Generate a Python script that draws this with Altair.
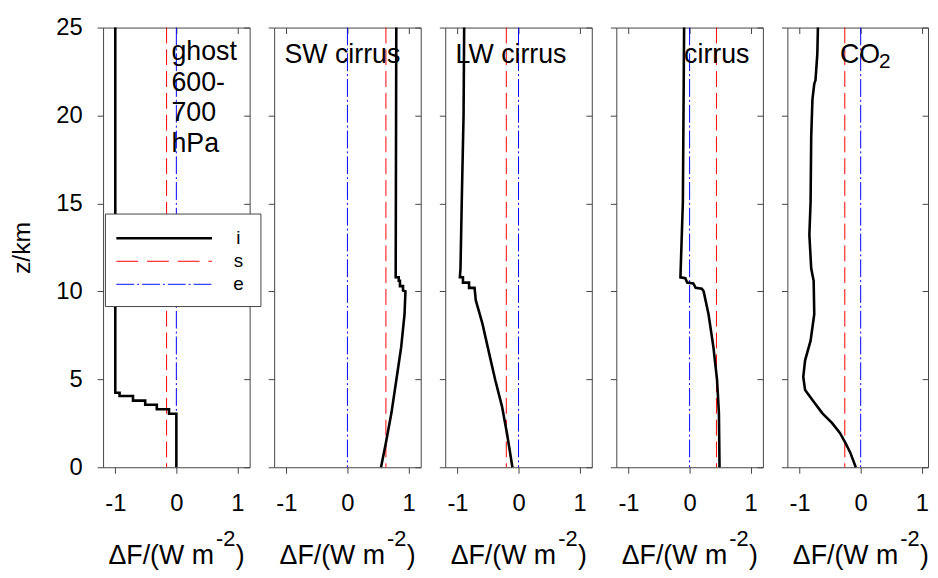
import altair as alt
import pandas as pd

FONT = "Liberation Sans, Arial, Helvetica, sans-serif"
FRAME = "#444444"

# ---------------- data ----------------
panel_names = ["ghost\n600-\n700\nhPa", "SW cirrus", "LW cirrus", "cirrus", "CO"]
label_x = [-0.08, -1.03, -1.03, -0.09, -0.34]
label_z = [23.16, 22.97, 22.97, 22.97, 22.97]
co2_sub = "2"
co2_sub_x = 0.30
co2_sub_z = 22.69

s_values = [-0.16, 0.63, -0.20, 0.44, -0.26]   # red dashed
e_values = [0.0, 0.0, 0.0, 0.0, 0.0]           # blue dash-dot

p1_x = [-1.0, -1.0, -0.93, -0.93, -0.71, -0.71, -0.51, -0.51, -0.32, -0.32, -0.12, -0.12, 0.0, 0.0]
p1_z = [25.0, 4.24, 4.24, 4.05, 4.05, 3.79, 3.79, 3.55, 3.55, 3.30, 3.30, 3.04, 3.04, 0.0]

p2_x = [0.80, 0.79, 0.84, 0.84, 0.86, 0.86, 0.91, 0.91, 0.95, 0.935, 0.88, 0.80, 0.72, 0.63, 0.55]
p2_z = [25.0, 10.8, 10.8, 10.6, 10.6, 10.3, 10.3, 10.05, 10.0, 8.7, 6.83, 4.95, 3.08, 1.39, 0.0]

p3_x = [-0.89, -0.90, -0.93, -0.95, -0.96, -0.91, -0.91, -0.81, -0.81, -0.72, -0.70, -0.59, -0.48, -0.38, -0.27, -0.19, -0.10]
p3_z = [25.0, 20.0, 15.0, 11.3, 10.8, 10.8, 10.5, 10.5, 10.2, 10.2, 9.5, 8.15, 6.46, 4.95, 3.45, 1.95, 0.0]

p4_x = [-0.09, -0.11, -0.15, -0.07, -0.04, 0.06, 0.10, 0.20, 0.23, 0.31, 0.39, 0.45, 0.48, 0.49]
p4_z = [25.0, 15.1, 10.8, 10.75, 10.5, 10.45, 10.2, 10.15, 10.0, 8.7, 6.83, 4.95, 3.08, 0.0]

p5_x = [-0.70, -0.71, -0.74, -0.76, -0.79, -0.81, -0.82, -0.84, -0.81, -0.77, -0.76, -0.82, -0.91, -0.94,
        -0.91, -0.79, -0.63, -0.47, -0.34, -0.25, -0.17, -0.08]
p5_z = [25.0, 23.5, 22.0, 21.8, 20.9, 18.8, 15.1, 13.2, 11.3, 10.6, 8.7, 7.2, 6.08, 5.14,
        4.39, 3.83, 3.08, 2.52, 1.95, 1.39, 0.83, 0.0]

profiles_x = [p1_x, p2_x, p3_x, p4_x, p5_x]
profiles_z = [p1_z, p2_z, p3_z, p4_z, p5_z]

x_ticks = [-1, 0, 1]
z_ticks = [0, 5, 10, 15, 20, 25]
legend_labels = ["i", "s", "e"]

# ---------------- styling ----------------
W, H = 148, 444
X_MIN, X_MAX = -1.2, 1.2
ZDOM = [0, 25]
PX_PER_UNIT = W / (X_MAX - X_MIN)
# the last panel is cut by the right edge of the picture in the reference
WIDTHS = [W, W, W, W, 142]
S_DASH = [16, 6]
E_DASH = [18, 3, 2, 3]
LINE_W = 2.6

dummy = pd.DataFrame({"d": [0]})


def panel(k):
    wk = WIDTHS[k]
    xs = alt.Scale(domain=[X_MIN, X_MIN + wk / PX_PER_UNIT], nice=False, zero=False)
    zs = alt.Scale(domain=ZDOM, nice=False, zero=False)
    prof = pd.DataFrame({"x": profiles_x[k], "z": profiles_z[k],
                         "idx": list(range(len(profiles_x[k])))})

    ax_bottom = alt.Axis(orient="bottom", values=x_ticks, title=None, labelPadding=19,
                         labelExpr="datum.value < 0 ? '-' + format(-datum.value, 'd') : format(datum.value, 'd')")
    ax_left = alt.Axis(orient="left", values=z_ticks, labels=(k == 0), labelPadding=15,
                       title=("z/km" if k == 0 else None), titlePadding=22)
    ax_top = alt.Axis(orient="top", values=x_ticks, labels=False, title=None, offset=-6)
    ax_right = alt.Axis(orient="right", values=z_ticks, labels=False, title=None, offset=-6)

    s_rule = alt.Chart(pd.DataFrame({"x": [s_values[k]]})).mark_rule(
        color="red", strokeWidth=1, strokeDash=S_DASH).encode(
        x=alt.X("x:Q", scale=xs, axis=None))
    e_rule = alt.Chart(pd.DataFrame({"x": [e_values[k]]})).mark_rule(
        color="blue", strokeWidth=1, strokeDash=E_DASH).encode(
        x=alt.X("x:Q", scale=xs, axis=None))
    line = alt.Chart(prof).mark_line(color="black", strokeWidth=LINE_W, strokeJoin="miter").encode(
        x=alt.X("x:Q", scale=xs, axis=ax_bottom),
        y=alt.Y("z:Q", scale=zs, axis=ax_left),
        order="idx:Q")
    ghost = alt.Chart(prof).mark_point(opacity=0, size=1).encode(
        x=alt.X("x:Q", scale=xs, axis=ax_top),
        y=alt.Y("z:Q", scale=zs, axis=ax_right))
    lab = alt.Chart(pd.DataFrame({"x": [label_x[k]], "z": [label_z[k]], "t": [panel_names[k]]})).mark_text(
        align="left", baseline="alphabetic", fontSize=27, font=FONT, lineBreak="\n", lineHeight=31,
        color="black").encode(
        x=alt.X("x:Q", scale=xs, axis=None), y=alt.Y("z:Q", scale=zs, axis=None), text="t:N")
    layers = [s_rule, e_rule, line, ghost, lab]

    if k == 4:
        sub = alt.Chart(pd.DataFrame({"x": [co2_sub_x], "z": [co2_sub_z], "t": [co2_sub]})).mark_text(
            align="left", baseline="alphabetic", fontSize=21, font=FONT, color="black").encode(
            x=alt.X("x:Q", scale=xs, axis=None), y=alt.Y("z:Q", scale=zs, axis=None), text="t:N")
        layers.append(sub)

    if k == 0:
        box = alt.Chart(dummy).mark_rect(fill="white", stroke=FRAME, strokeWidth=1).encode(
            x=alt.value(2.4), x2=alt.value(159.4), y=alt.value(188.3), y2=alt.value(281.7))
        layers.append(box)
        styles = [dict(color="black", strokeWidth=LINE_W),
                  dict(color="red", strokeWidth=1, strokeDash=[22, 9]),
                  dict(color="#3344ff", strokeWidth=1.2, strokeDash=E_DASH)]
        for i, name in enumerate(legend_labels):
            yy = 212.7 + i * 23.3
            layers.append(alt.Chart(dummy).mark_rule(**styles[i]).encode(
                x=alt.value(13.4), x2=alt.value(110), y=alt.value(yy)))
            layers.append(alt.Chart(dummy).mark_text(
                align="center", baseline="middle", fontSize=19, font=FONT, color="black").encode(
                x=alt.value(136.7), y=alt.value(yy), text=alt.value(name)))

    # x-axis title with a real superscript
    tx = 5.5
    ty = 542
    layers.append(alt.Chart(dummy).mark_text(
        align="left", baseline="alphabetic", fontSize=27, font=FONT, color="black").encode(
        x=alt.value(tx), y=alt.value(ty), text=alt.value("\u0394F/(W m")))
    layers.append(alt.Chart(dummy).mark_text(
        align="left", baseline="alphabetic", fontSize=22, font=FONT, color="black").encode(
        x=alt.value(tx + 108.5), y=alt.value(ty - 19), text=alt.value("-2")))
    layers.append(alt.Chart(dummy).mark_text(
        align="left", baseline="alphabetic", fontSize=27, font=FONT, color="black").encode(
        x=alt.value(tx + 128.5), y=alt.value(ty), text=alt.value(")")))

    return alt.layer(*layers).resolve_axis(x="independent", y="independent").properties(width=wk, height=H)


chart = alt.hconcat(*[panel(k) for k in range(5)], spacing=24.75, bounds="flush").configure_view(
    stroke=FRAME, strokeWidth=1).configure_axis(
    grid=False, domain=False, tickColor=FRAME, tickSize=6, tickWidth=1,
    labelFont=FONT, labelFontSize=24, labelColor="black",
    titleFont=FONT, titleFontSize=25, titleFontWeight="normal", titleColor="black").properties(
    padding={"left": 0, "top": 4, "right": 0, "bottom": -1}, background="white")

chart.save("out.html", embed_options={"renderer": "svg", "actions": False})
